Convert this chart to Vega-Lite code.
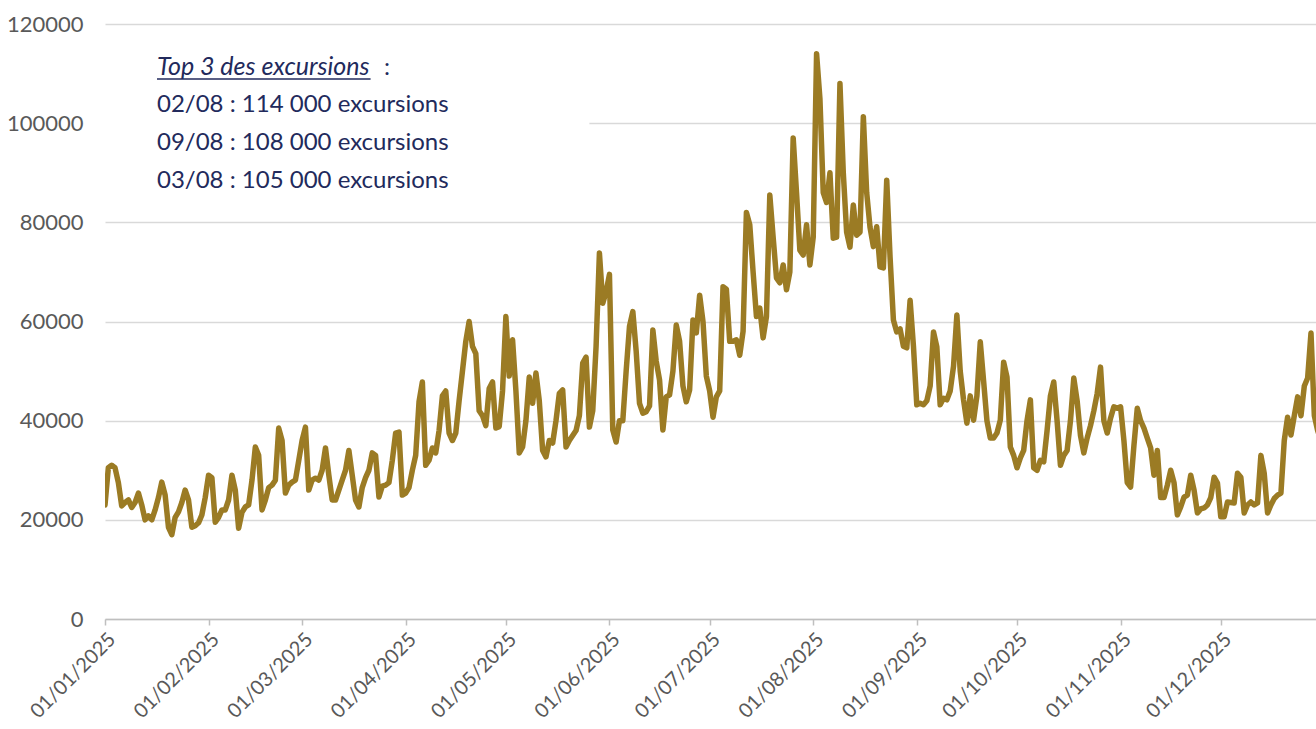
{
  "$schema": "https://vega.github.io/schema/vega-lite/v6.json",
  "autosize": {"type": "none"},
  "width": 1211,
  "height": 595,
  "padding": {"left": 105, "top": 24, "right": 0, "bottom": 110},
  "background": "white",
  "config": {
    "view": {"stroke": null},
    "font": "Lato",
    "axis": {"labelFont": "Lato", "labelFontSize": 22, "labelColor": "#595959"},
    "axisY": {"grid": true, "gridColor": "#D9D9D9", "gridWidth": 1.5, "domain": false, "ticks": false, "tickSize": 0, "labelPadding": 22},
    "axisX": {"grid": false, "domain": true, "domainColor": "#BFBFBF", "domainWidth": 1.5, "ticks": true, "tickColor": "#BFBFBF", "tickWidth": 1.5, "tickSize": 6, "labelAngle": -45, "labelPadding": 4, "labelFontSize": 20, "labelOverlap": false, "labelFlush": false}
  },
  "layer": [
    {
      "data": {"values": [
{"d":"2025-01-01","v":23000},{"d":"2025-01-02","v":30500},{"d":"2025-01-03","v":31000},{"d":"2025-01-04","v":30500},{"d":"2025-01-05","v":27500},{"d":"2025-01-06","v":22800},{"d":"2025-01-07","v":23500},{"d":"2025-01-08","v":24000},{"d":"2025-01-09","v":22500},{"d":"2025-01-10","v":23500},{"d":"2025-01-11","v":25400},{"d":"2025-01-12","v":23000},{"d":"2025-01-13","v":20000},{"d":"2025-01-14","v":20800},{"d":"2025-01-15","v":20000},{"d":"2025-01-16","v":22000},{"d":"2025-01-17","v":24500},{"d":"2025-01-18","v":27600},{"d":"2025-01-19","v":25000},{"d":"2025-01-20","v":18500},{"d":"2025-01-21","v":17000},{"d":"2025-01-22","v":20500},{"d":"2025-01-23","v":21600},{"d":"2025-01-24","v":23500},{"d":"2025-01-25","v":26000},{"d":"2025-01-26","v":24000},{"d":"2025-01-27","v":18500},{"d":"2025-01-28","v":18800},{"d":"2025-01-29","v":19400},{"d":"2025-01-30","v":21000},{"d":"2025-01-31","v":24500},
{"d":"2025-02-01","v":29000},{"d":"2025-02-02","v":28500},{"d":"2025-02-03","v":19500},{"d":"2025-02-04","v":20500},{"d":"2025-02-05","v":22000},{"d":"2025-02-06","v":22000},{"d":"2025-02-07","v":24000},{"d":"2025-02-08","v":29000},{"d":"2025-02-09","v":26000},{"d":"2025-02-10","v":18300},{"d":"2025-02-11","v":21500},{"d":"2025-02-12","v":22600},{"d":"2025-02-13","v":23000},{"d":"2025-02-14","v":28000},{"d":"2025-02-15","v":34700},{"d":"2025-02-16","v":33000},{"d":"2025-02-17","v":22000},{"d":"2025-02-18","v":24000},{"d":"2025-02-19","v":26500},{"d":"2025-02-20","v":27000},{"d":"2025-02-21","v":28000},{"d":"2025-02-22","v":38500},{"d":"2025-02-23","v":36000},{"d":"2025-02-24","v":25400},{"d":"2025-02-25","v":27000},{"d":"2025-02-26","v":27600},{"d":"2025-02-27","v":28000},{"d":"2025-02-28","v":32000},
{"d":"2025-03-01","v":36000},{"d":"2025-03-02","v":38700},{"d":"2025-03-03","v":26000},{"d":"2025-03-04","v":28000},{"d":"2025-03-05","v":28400},{"d":"2025-03-06","v":28000},{"d":"2025-03-07","v":30000},{"d":"2025-03-08","v":34500},{"d":"2025-03-09","v":29000},{"d":"2025-03-10","v":24000},{"d":"2025-03-11","v":24000},{"d":"2025-03-12","v":26000},{"d":"2025-03-13","v":28000},{"d":"2025-03-14","v":30000},{"d":"2025-03-15","v":34000},{"d":"2025-03-16","v":29000},{"d":"2025-03-17","v":24000},{"d":"2025-03-18","v":22600},{"d":"2025-03-19","v":26500},{"d":"2025-03-20","v":28500},{"d":"2025-03-21","v":30000},{"d":"2025-03-22","v":33500},{"d":"2025-03-23","v":33000},{"d":"2025-03-24","v":24600},{"d":"2025-03-25","v":26800},{"d":"2025-03-26","v":27000},{"d":"2025-03-27","v":27500},{"d":"2025-03-28","v":32000},{"d":"2025-03-29","v":37500},{"d":"2025-03-30","v":37700},{"d":"2025-03-31","v":25000},
{"d":"2025-04-01","v":25400},{"d":"2025-04-02","v":26500},{"d":"2025-04-03","v":30000},{"d":"2025-04-04","v":33000},{"d":"2025-04-05","v":43800},{"d":"2025-04-06","v":47800},{"d":"2025-04-07","v":31000},{"d":"2025-04-08","v":32000},{"d":"2025-04-09","v":34500},{"d":"2025-04-10","v":33500},{"d":"2025-04-11","v":38000},{"d":"2025-04-12","v":45000},{"d":"2025-04-13","v":46000},{"d":"2025-04-14","v":37500},{"d":"2025-04-15","v":36000},{"d":"2025-04-16","v":37500},{"d":"2025-04-17","v":44000},{"d":"2025-04-18","v":50000},{"d":"2025-04-19","v":56000},{"d":"2025-04-20","v":60000},{"d":"2025-04-21","v":55000},{"d":"2025-04-22","v":53500},{"d":"2025-04-23","v":42000},{"d":"2025-04-24","v":41000},{"d":"2025-04-25","v":39000},{"d":"2025-04-26","v":46500},{"d":"2025-04-27","v":47800},{"d":"2025-04-28","v":38500},{"d":"2025-04-29","v":38800},{"d":"2025-04-30","v":46000},
{"d":"2025-05-01","v":61000},{"d":"2025-05-02","v":49000},{"d":"2025-05-03","v":56300},{"d":"2025-05-04","v":46000},{"d":"2025-05-05","v":33500},{"d":"2025-05-06","v":34700},{"d":"2025-05-07","v":40000},{"d":"2025-05-08","v":48800},{"d":"2025-05-09","v":43500},{"d":"2025-05-10","v":49600},{"d":"2025-05-11","v":44000},{"d":"2025-05-12","v":34000},{"d":"2025-05-13","v":32700},{"d":"2025-05-14","v":36000},{"d":"2025-05-15","v":35500},{"d":"2025-05-16","v":40000},{"d":"2025-05-17","v":45500},{"d":"2025-05-18","v":46200},{"d":"2025-05-19","v":34700},{"d":"2025-05-20","v":36000},{"d":"2025-05-21","v":37000},{"d":"2025-05-22","v":38000},{"d":"2025-05-23","v":41000},{"d":"2025-05-24","v":51600},{"d":"2025-05-25","v":52800},{"d":"2025-05-26","v":38700},{"d":"2025-05-27","v":42000},{"d":"2025-05-28","v":55000},{"d":"2025-05-29","v":73800},{"d":"2025-05-30","v":63700},{"d":"2025-05-31","v":66000},
{"d":"2025-06-01","v":69500},{"d":"2025-06-02","v":38100},{"d":"2025-06-03","v":35700},{"d":"2025-06-04","v":40000},{"d":"2025-06-05","v":40000},{"d":"2025-06-06","v":50000},{"d":"2025-06-07","v":59000},{"d":"2025-06-08","v":62000},{"d":"2025-06-09","v":54000},{"d":"2025-06-10","v":43500},{"d":"2025-06-11","v":41500},{"d":"2025-06-12","v":41800},{"d":"2025-06-13","v":43000},{"d":"2025-06-14","v":58300},{"d":"2025-06-15","v":52000},{"d":"2025-06-16","v":48200},{"d":"2025-06-17","v":38100},{"d":"2025-06-18","v":44800},{"d":"2025-06-19","v":45200},{"d":"2025-06-20","v":50000},{"d":"2025-06-21","v":59300},{"d":"2025-06-22","v":56000},{"d":"2025-06-23","v":47000},{"d":"2025-06-24","v":43800},{"d":"2025-06-25","v":46200},{"d":"2025-06-26","v":60300},{"d":"2025-06-27","v":57700},{"d":"2025-06-28","v":65300},{"d":"2025-06-29","v":60000},{"d":"2025-06-30","v":49000},
{"d":"2025-07-01","v":46000},{"d":"2025-07-02","v":40700},{"d":"2025-07-03","v":44800},{"d":"2025-07-04","v":46000},{"d":"2025-07-05","v":67000},{"d":"2025-07-06","v":66500},{"d":"2025-07-07","v":56000},{"d":"2025-07-08","v":56000},{"d":"2025-07-09","v":56300},{"d":"2025-07-10","v":53200},{"d":"2025-07-11","v":58000},{"d":"2025-07-12","v":82000},{"d":"2025-07-13","v":79500},{"d":"2025-07-14","v":70000},{"d":"2025-07-15","v":61000},{"d":"2025-07-16","v":62700},{"d":"2025-07-17","v":56700},{"d":"2025-07-18","v":61000},{"d":"2025-07-19","v":85500},{"d":"2025-07-20","v":77000},{"d":"2025-07-21","v":68800},{"d":"2025-07-22","v":67800},{"d":"2025-07-23","v":71400},{"d":"2025-07-24","v":66400},{"d":"2025-07-25","v":70000},{"d":"2025-07-26","v":97000},{"d":"2025-07-27","v":86000},{"d":"2025-07-28","v":74400},{"d":"2025-07-29","v":73400},{"d":"2025-07-30","v":79500},{"d":"2025-07-31","v":71400},
{"d":"2025-08-01","v":77000},{"d":"2025-08-02","v":114000},{"d":"2025-08-03","v":105000},{"d":"2025-08-04","v":86000},{"d":"2025-08-05","v":84000},{"d":"2025-08-06","v":90000},{"d":"2025-08-07","v":76800},{"d":"2025-08-08","v":77000},{"d":"2025-08-09","v":108000},{"d":"2025-08-10","v":90000},{"d":"2025-08-11","v":78000},{"d":"2025-08-12","v":75000},{"d":"2025-08-13","v":83500},{"d":"2025-08-14","v":77400},{"d":"2025-08-15","v":78000},{"d":"2025-08-16","v":101300},{"d":"2025-08-17","v":86000},{"d":"2025-08-18","v":79000},{"d":"2025-08-19","v":75100},{"d":"2025-08-20","v":79100},{"d":"2025-08-21","v":71000},{"d":"2025-08-22","v":70800},{"d":"2025-08-23","v":88500},{"d":"2025-08-24","v":73000},{"d":"2025-08-25","v":60300},{"d":"2025-08-26","v":57900},{"d":"2025-08-27","v":58500},{"d":"2025-08-28","v":55000},{"d":"2025-08-29","v":54700},{"d":"2025-08-30","v":64300},{"d":"2025-08-31","v":55000},
{"d":"2025-09-01","v":43200},{"d":"2025-09-02","v":43500},{"d":"2025-09-03","v":43200},{"d":"2025-09-04","v":44000},{"d":"2025-09-05","v":47000},{"d":"2025-09-06","v":57900},{"d":"2025-09-07","v":54900},{"d":"2025-09-08","v":43200},{"d":"2025-09-09","v":44500},{"d":"2025-09-10","v":44200},{"d":"2025-09-11","v":46000},{"d":"2025-09-12","v":51000},{"d":"2025-09-13","v":61300},{"d":"2025-09-14","v":50000},{"d":"2025-09-15","v":44200},{"d":"2025-09-16","v":39500},{"d":"2025-09-17","v":45000},{"d":"2025-09-18","v":40100},{"d":"2025-09-19","v":45000},{"d":"2025-09-20","v":55900},{"d":"2025-09-21","v":48000},{"d":"2025-09-22","v":40000},{"d":"2025-09-23","v":36500},{"d":"2025-09-24","v":36500},{"d":"2025-09-25","v":37500},{"d":"2025-09-26","v":40100},{"d":"2025-09-27","v":51800},{"d":"2025-09-28","v":48800},{"d":"2025-09-29","v":34700},{"d":"2025-09-30","v":33000},
{"d":"2025-10-01","v":30500},{"d":"2025-10-02","v":32500},{"d":"2025-10-03","v":34000},{"d":"2025-10-04","v":40000},{"d":"2025-10-05","v":44200},{"d":"2025-10-06","v":30500},{"d":"2025-10-07","v":30000},{"d":"2025-10-08","v":32000},{"d":"2025-10-09","v":31700},{"d":"2025-10-10","v":38000},{"d":"2025-10-11","v":45000},{"d":"2025-10-12","v":47800},{"d":"2025-10-13","v":40000},{"d":"2025-10-14","v":31000},{"d":"2025-10-15","v":33000},{"d":"2025-10-16","v":34000},{"d":"2025-10-17","v":40000},{"d":"2025-10-18","v":48600},{"d":"2025-10-19","v":44000},{"d":"2025-10-20","v":37000},{"d":"2025-10-21","v":33500},{"d":"2025-10-22","v":36500},{"d":"2025-10-23","v":39000},{"d":"2025-10-24","v":42000},{"d":"2025-10-25","v":45500},{"d":"2025-10-26","v":50800},{"d":"2025-10-27","v":40000},{"d":"2025-10-28","v":37500},{"d":"2025-10-29","v":40500},{"d":"2025-10-30","v":42800},{"d":"2025-10-31","v":42500},
{"d":"2025-11-01","v":42800},{"d":"2025-11-02","v":36000},{"d":"2025-11-03","v":27500},{"d":"2025-11-04","v":26600},{"d":"2025-11-05","v":35000},{"d":"2025-11-06","v":42500},{"d":"2025-11-07","v":40000},{"d":"2025-11-08","v":38500},{"d":"2025-11-09","v":36500},{"d":"2025-11-10","v":34500},{"d":"2025-11-11","v":29000},{"d":"2025-11-12","v":34000},{"d":"2025-11-13","v":24500},{"d":"2025-11-14","v":24500},{"d":"2025-11-15","v":27000},{"d":"2025-11-16","v":30000},{"d":"2025-11-17","v":27500},{"d":"2025-11-18","v":21000},{"d":"2025-11-19","v":22600},{"d":"2025-11-20","v":24600},{"d":"2025-11-21","v":25000},{"d":"2025-11-22","v":29000},{"d":"2025-11-23","v":26000},{"d":"2025-11-24","v":21400},{"d":"2025-11-25","v":22200},{"d":"2025-11-26","v":22400},{"d":"2025-11-27","v":23000},{"d":"2025-11-28","v":24500},{"d":"2025-11-29","v":28600},{"d":"2025-11-30","v":27400},
{"d":"2025-12-01","v":20600},{"d":"2025-12-02","v":20600},{"d":"2025-12-03","v":23600},{"d":"2025-12-04","v":23500},{"d":"2025-12-05","v":23400},{"d":"2025-12-06","v":29400},{"d":"2025-12-07","v":28600},{"d":"2025-12-08","v":21400},{"d":"2025-12-09","v":23000},{"d":"2025-12-10","v":23600},{"d":"2025-12-11","v":23000},{"d":"2025-12-12","v":23400},{"d":"2025-12-13","v":33000},{"d":"2025-12-14","v":29400},{"d":"2025-12-15","v":21400},{"d":"2025-12-16","v":23000},{"d":"2025-12-17","v":24300},{"d":"2025-12-18","v":25000},{"d":"2025-12-19","v":25400},{"d":"2025-12-20","v":36000},{"d":"2025-12-21","v":40700},{"d":"2025-12-22","v":37100},{"d":"2025-12-23","v":41000},{"d":"2025-12-24","v":44800},{"d":"2025-12-25","v":41000},{"d":"2025-12-26","v":47000},{"d":"2025-12-27","v":48600},{"d":"2025-12-28","v":57700},{"d":"2025-12-29","v":41000},{"d":"2025-12-30","v":38000},{"d":"2025-12-31","v":36000}
      ]},
      "mark": {"type": "line", "color": "#9B7B24", "strokeWidth": 5.5, "strokeJoin": "round", "strokeCap": "round", "clip": true},
      "encoding": {
        "x": {
          "field": "d", "type": "temporal", "title": null,
          "scale": {"type": "utc", "domain": [{"year": 2025, "month": 1, "date": 1, "utc": true}, {"year": 2025, "month": 12, "date": 29, "hours": 12, "utc": true}]},
          "axis": {
            "labelExpr": "utcFormat(datum.value, '%d/%m/%Y')",
            "values": [
              {"year": 2025, "month": 1, "date": 1, "utc": true},
              {"year": 2025, "month": 2, "date": 1, "utc": true},
              {"year": 2025, "month": 3, "date": 1, "utc": true},
              {"year": 2025, "month": 4, "date": 1, "utc": true},
              {"year": 2025, "month": 5, "date": 1, "utc": true},
              {"year": 2025, "month": 6, "date": 1, "utc": true},
              {"year": 2025, "month": 7, "date": 1, "utc": true},
              {"year": 2025, "month": 8, "date": 1, "utc": true},
              {"year": 2025, "month": 9, "date": 1, "utc": true},
              {"year": 2025, "month": 10, "date": 1, "utc": true},
              {"year": 2025, "month": 11, "date": 1, "utc": true},
              {"year": 2025, "month": 12, "date": 1, "utc": true}
            ]
          }
        },
        "y": {
          "field": "v", "type": "quantitative", "title": null,
          "scale": {"domain": [0, 120000], "nice": false},
          "axis": {"values": [0, 20000, 40000, 60000, 80000, 100000, 120000], "format": "d"}
        }
      }
    },
    {
      "data": {"values": [{}]},
      "mark": {"type": "rect", "color": "white"},
      "encoding": {
        "x": {"datum": {"year": 2025, "month": 1, "date": 1, "utc": true}, "type": "temporal"},
        "x2": {"datum": {"year": 2025, "month": 5, "date": 26, "utc": true}},
        "y": {"datum": 95000, "type": "quantitative"},
        "y2": {"datum": 105000}
      }
    },
    {
      "data": {"values": [{}]},
      "mark": {"type": "rule", "color": "#222A5C", "strokeWidth": 1.5},
      "encoding": {
        "x": {"datum": {"year": 2025, "month": 1, "date": 16, "hours": 13, "minutes": 40, "utc": true}, "type": "temporal"},
        "x2": {"datum": {"year": 2025, "month": 3, "date": 21, "hours": 12, "utc": true}},
        "y": {"datum": 108900, "type": "quantitative"}
      }
    },
    {
      "data": {"values": [{}]},
      "mark": {"type": "text", "text": "Top 3 des excursions", "font": "Lato", "fontSize": 25, "fontStyle": "italic", "color": "#222A5C", "align": "left", "baseline": "alphabetic"},
      "encoding": {
        "x": {"datum": {"year": 2025, "month": 1, "date": 16, "hours": 13, "minutes": 40, "utc": true}, "type": "temporal"},
        "y": {"datum": 109700, "type": "quantitative"}
      }
    },
    {
      "data": {"values": [{}]},
      "mark": {"type": "text", "text": ":", "font": "Lato", "fontSize": 24, "color": "#222A5C", "align": "left", "baseline": "alphabetic"},
      "encoding": {
        "x": {"datum": {"year": 2025, "month": 3, "date": 25, "hours": 12, "utc": true}, "type": "temporal"},
        "y": {"datum": 109700, "type": "quantitative"}
      }
    },
    {
      "data": {"values": [{}]},
      "mark": {"type": "text", "text": ["02/08 : 114 000 excursions", "09/08 : 108 000 excursions", "03/08 : 105 000 excursions"], "lineHeight": 38, "font": "Lato", "fontSize": 24, "color": "#222A5C", "align": "left", "baseline": "alphabetic"},
      "encoding": {
        "x": {"datum": {"year": 2025, "month": 1, "date": 16, "hours": 13, "minutes": 40, "utc": true}, "type": "temporal"},
        "y": {"datum": 102250, "type": "quantitative"}
      }
    }
  ]
}
